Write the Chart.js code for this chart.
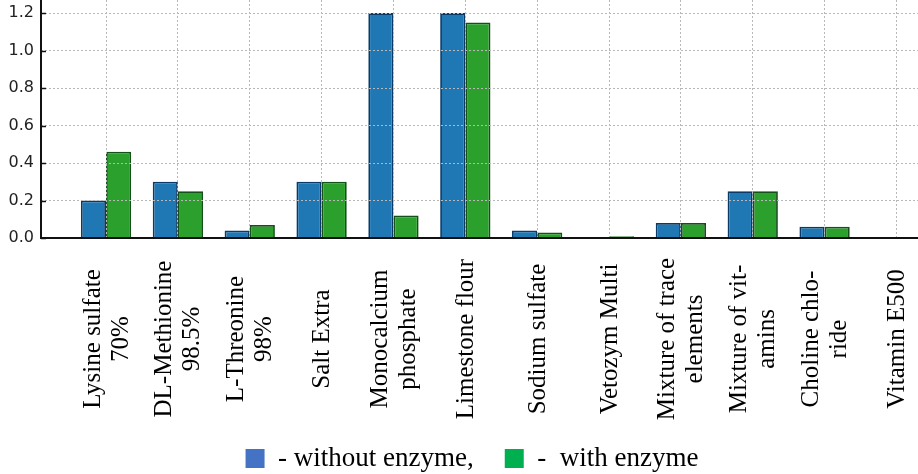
<!DOCTYPE html>
<html>
<head>
<meta charset="utf-8">
<script src="https://cdn.jsdelivr.net/npm/chart.js@4/dist/chart.umd.min.js"></script>
<style>
  html, body { margin: 0; padding: 0; background: #ffffff; }
  #wrap { width: 918px; height: 474px; position: relative; }
</style>
</head>
<body>
<div id="wrap"><canvas id="c"></canvas></div>
<script>
// ---- data ----
const categories = [
  ["Lysine sulfate", "70%"],
  ["DL-Methionine", "98.5%"],
  ["L-Threonine", "98%"],
  ["Salt Extra"],
  ["Monocalcium", "phosphate"],
  ["Limestone flour"],
  ["Sodium sulfate"],
  ["Vetozym Multi"],
  ["Mixture of trace", "elements"],
  ["Mixture of vit-", "amins"],
  ["Choline chlo-", "ride"],
  ["Vitamin E500"]
];
const withoutEnzyme = [0.20, 0.30, 0.04, 0.30, 1.20, 1.20, 0.04, 0.00, 0.08, 0.25, 0.06, 0.005];
const withEnzyme    = [0.46, 0.25, 0.07, 0.30, 0.12, 1.15, 0.03, 0.01, 0.08, 0.25, 0.06, 0.003];
const yTicks = [0, 0.2, 0.4, 0.6, 0.8, 1.0, 1.2];
const seriesNames = ["- without enzyme,", "-  with enzyme"];

// ---- styles ----
const barFill = ["#1f77b4", "#2ca02c"];
const barEdge = ["#0c3a66", "#14501a"];
const legendFill = ["#4472c4", "#00b050"];
const serif = "'Liberation Serif', 'Times New Roman', serif";

const xLabelPlugin = {
  id: 'xLabels',
  afterLayout(chart) {
    if (chart.legend) { chart.legend.left += 13; chart.legend.right += 13; }
  },
  afterDraw(chart) {
    const ctx = chart.ctx;
    const xs = chart.scales.x;
    const ys = chart.scales.y;
    const a = chart.chartArea;
    // axis lines (solid black)
    ctx.save();
    ctx.strokeStyle = '#111';
    ctx.lineWidth = 2;
    ctx.beginPath();
    ctx.moveTo(a.left, a.top);
    ctx.lineTo(a.left, a.bottom);
    ctx.lineTo(a.right, a.bottom);
    ctx.stroke();
    // small inward y ticks
    ctx.lineWidth = 1.5;
    ys.ticks.forEach(t => {
      const y = Math.round(ys.getPixelForValue(t.value)) + 0.5;
      ctx.beginPath();
      ctx.moveTo(a.left, y);
      ctx.lineTo(a.left + 5, y);
      ctx.stroke();
    });
    ctx.restore();

    // rotated category labels
    const yc = a.bottom + 101;
    const lh = 28;
    ctx.save();
    ctx.fillStyle = '#000';
    ctx.font = "25px " + serif;
    ctx.textAlign = 'center';
    ctx.textBaseline = 'middle';
    categories.forEach((lines, i) => {
      const x = xs.getPixelForValue(i);
      ctx.save();
      ctx.translate(x + 1, yc);
      ctx.rotate(-Math.PI / 2);
      lines.forEach((t, k) => {
        ctx.fillText(t, 0, (k - (lines.length - 1) / 2) * lh);
      });
      ctx.restore();
    });
    ctx.restore();
  }
};

new Chart(document.getElementById('c'), {
  type: 'bar',
  data: {
    datasets: [
      {
        label: seriesNames[0],
        data: withoutEnzyme.map((v, i) => ({ x: i, y: v })),
        backgroundColor: barFill[0],
        borderColor: barEdge[0],
        borderWidth: 1.8,
        categoryPercentage: 0.7,
        barPercentage: 1.0
      },
      {
        label: seriesNames[1],
        data: withEnzyme.map((v, i) => ({ x: i, y: v })),
        backgroundColor: barFill[1],
        borderColor: barEdge[1],
        borderWidth: 1.8,
        categoryPercentage: 0.7,
        barPercentage: 1.0
      }
    ]
  },
  options: {
    responsive: true,
    maintainAspectRatio: false,
    animation: false,
    layout: { padding: 0 },
    plugins: {
      tooltip: { enabled: false },
      legend: {
        position: 'bottom',
        maxHeight: 60,
        labels: {
          padding: 31,
          boxWidth: 19,
          boxHeight: 19,
          color: '#000',
          font: { family: serif, size: 27 },
          generateLabels: (chart) => seriesNames.map((n, i) => ({
            text: n,
            fillStyle: legendFill[i],
            strokeStyle: legendFill[i],
            lineWidth: 0,
            hidden: false,
            datasetIndex: i
          }))
        }
      }
    },
    scales: {
      x: {
        type: 'linear',
        offset: false,
        min: -0.905,
        max: 11.3,
        afterBuildTicks: (axis) => { axis.ticks = categories.map((_, i) => ({ value: i })); },
        afterFit: (s) => { s.height = 176; s.paddingLeft = 0; s.paddingRight = 0; },
        ticks: { display: false },
        grid: {
          display: true,
          offset: false,
          color: '#b8b8b8',
          lineWidth: 1,
          z: 1,
          drawTicks: false
        },
        border: { display: false, dash: [2, 2] }
      },
      y: {
        min: 0,
        max: 1.27,
        afterBuildTicks: (axis) => { axis.ticks = yTicks.map(v => ({ value: v })); },
        afterFit: (s) => { s.width = 41; s.paddingTop = 0; s.paddingBottom = 0; },
        ticks: {
          padding: 7,
          color: '#222',
          font: { family: "'DejaVu Sans', sans-serif", size: 16 },
          callback: (v) => Number(v).toFixed(1)
        },
        grid: {
          color: '#b8b8b8',
          lineWidth: 1,
          z: 1,
          drawTicks: false
        },
        border: { display: false, dash: [2, 2] }
      }
    }
  },
  plugins: [xLabelPlugin]
});
</script>
</body>
</html>
